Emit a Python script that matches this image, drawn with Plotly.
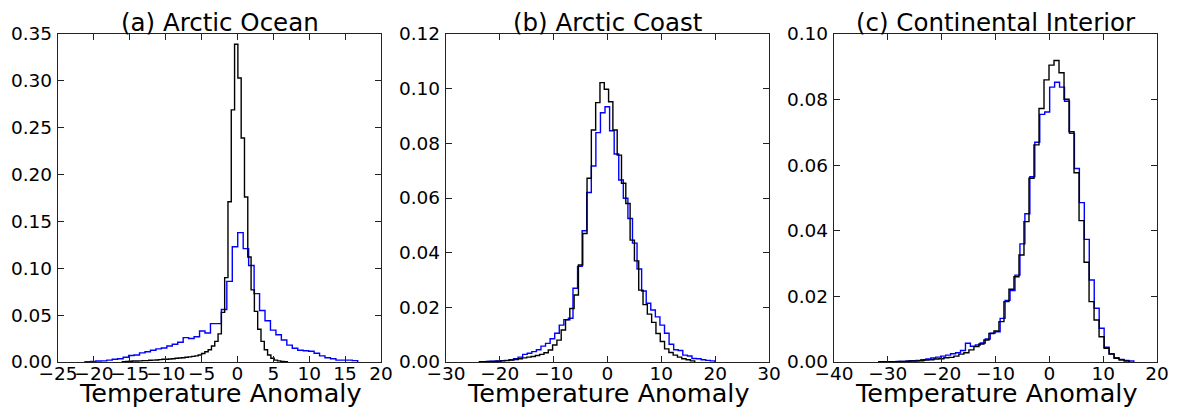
import plotly.graph_objects as go

W, H = 1177, 413

# ---------------- data (normalised histograms, uniform bins) ----------------
titles = ["(a) Arctic Ocean", "(b) Arctic Coast", "(c) Continental Interior"]
x_label = "Temperature Anomaly"

# (a) Arctic Ocean
a_blue_start = -21.24
a_blue_width = 0.76
a_blue_values = [0.0003, 0.0005, 0.001, 0.0012, 0.002, 0.003, 0.0035, 0.005, 0.007, 0.0075,
                 0.0097, 0.011, 0.0125, 0.014, 0.015, 0.017, 0.019, 0.021, 0.026, 0.025,
                 0.027, 0.033, 0.031, 0.041, 0.041, 0.056, 0.086, 0.123, 0.138, 0.121,
                 0.103, 0.073, 0.055, 0.044, 0.034, 0.029, 0.0235, 0.018, 0.0146, 0.0125,
                 0.012, 0.0115, 0.0093, 0.0065, 0.0045, 0.0035, 0.002, 0.002, 0.002, 0.0015]
a_black_start = -16.04
a_black_width = 0.46
a_black_values = [0.0004, 0.0005, 0.0008, 0.001, 0.001, 0.0012, 0.0015, 0.0015, 0.0018, 0.002,
                  0.0022, 0.0025, 0.003, 0.003, 0.0032, 0.0035, 0.004, 0.0042, 0.0045, 0.005,
                  0.0055, 0.006, 0.0065, 0.0075, 0.009, 0.011, 0.013, 0.017, 0.022, 0.03,
                  0.053, 0.09, 0.171, 0.269, 0.339, 0.303, 0.239, 0.176, 0.112, 0.077,
                  0.054, 0.035, 0.022, 0.013, 0.0075, 0.004, 0.002, 0.0012, 0.0007, 0.0003]

# (b) Arctic Coast
b_blue_start = -22.56
b_blue_width = 0.85
b_blue_values = [0.0002, 0.0003, 0.0004, 0.0005, 0.0006, 0.0008, 0.0012, 0.0018, 0.0028, 0.0032,
                 0.0038, 0.0045, 0.0058, 0.0068, 0.0085, 0.0105, 0.0135, 0.0155, 0.016, 0.027,
                 0.035, 0.048, 0.062, 0.0717, 0.0839, 0.0912, 0.0934, 0.0846, 0.0761, 0.0666,
                 0.0599, 0.0525, 0.0435, 0.034, 0.026, 0.0215, 0.019, 0.0165, 0.0135, 0.0105,
                 0.0065, 0.0045, 0.0042, 0.0025, 0.0022, 0.0013, 0.0012, 0.0008, 0.0006, 0.0004]
b_black_start = -23.8
b_black_width = 0.8
b_black_values = [0.0001, 0.0001, 0.0002, 0.0002, 0.0003, 0.0004, 0.0005, 0.0007, 0.0009, 0.0012,
                  0.0015, 0.0018, 0.002, 0.0024, 0.0028, 0.0034, 0.0044, 0.0062, 0.008, 0.0117,
                  0.0154, 0.0196, 0.0245, 0.0355, 0.047, 0.0672, 0.0849, 0.0949, 0.1022, 0.0998,
                  0.0952, 0.0849, 0.0757, 0.0654, 0.058, 0.0446, 0.037, 0.0263, 0.021, 0.0175,
                  0.0145, 0.0104, 0.0075, 0.0048, 0.0035, 0.0025, 0.0018, 0.0012, 0.0008, 0.0004]

# (c) Continental Interior
c_blue_start = -30.3
c_blue_width = 0.92
c_blue_values = [0.0001, 0.0001, 0.0002, 0.0002, 0.0003, 0.0004, 0.0005, 0.0007, 0.0009, 0.0012,
                 0.0015, 0.0018, 0.0021, 0.0025, 0.0028, 0.0035, 0.0057, 0.0048, 0.0052, 0.0058,
                 0.007, 0.0088, 0.0092, 0.0133, 0.0188, 0.0218, 0.0265, 0.036, 0.0452, 0.0565,
                 0.067, 0.0755, 0.0762, 0.0838, 0.0853, 0.0838, 0.0795, 0.0697, 0.059, 0.0486,
                 0.0374, 0.025, 0.0164, 0.0103, 0.0045, 0.0025, 0.0013, 0.0008, 0.0005, 0.0003]
c_black_start = -31.68
c_black_width = 0.93
c_black_values = [0.0001, 0.0001, 0.0001, 0.0001, 0.0002, 0.0002, 0.0003, 0.0003, 0.0004, 0.0006,
                  0.0007, 0.0009, 0.001, 0.0013, 0.0014, 0.0018, 0.0024, 0.0028, 0.0037, 0.0047,
                  0.0055, 0.0067, 0.0087, 0.0095, 0.0123, 0.0184, 0.0222, 0.026, 0.0326, 0.0428,
                  0.056, 0.0662, 0.0773, 0.086, 0.0905, 0.0919, 0.0882, 0.0801, 0.0702, 0.0577,
                  0.0431, 0.0304, 0.0184, 0.0128, 0.0077, 0.0042, 0.0024, 0.0011, 0.0006, 0.0003]

# axis ticks
a_xticks = [-25, -20, -15, -10, -5, 0, 5, 10, 15, 20]
b_xticks = [-30, -20, -10, 0, 10, 20, 30]
c_xticks = [-40, -30, -20, -10, 0, 10, 20]
a_yticks = [0.0, 0.05, 0.10, 0.15, 0.20, 0.25, 0.30, 0.35]
b_yticks = [0.0, 0.02, 0.04, 0.06, 0.08, 0.10, 0.12]
c_yticks = [0.0, 0.02, 0.04, 0.06, 0.08, 0.10]

panels = [
    dict(blue=(a_blue_start, a_blue_width, a_blue_values),
         black=(a_black_start, a_black_width, a_black_values),
         xticks=a_xticks, yticks=a_yticks),
    dict(blue=(b_blue_start, b_blue_width, b_blue_values),
         black=(b_black_start, b_black_width, b_black_values),
         xticks=b_xticks, yticks=b_yticks),
    dict(blue=(c_blue_start, c_blue_width, c_blue_values),
         black=(c_black_start, c_black_width, c_black_values),
         xticks=c_xticks, yticks=c_yticks),
]

# ---------------- layout geometry (pixels) ----------------
px_left = [58, 446, 834]
px_width = 323
px_top, px_bottom = 34, 362


def step_xy(start, width, values):
    n = len(values)
    edges = [start + i * width for i in range(n + 1)]
    xs = [edges[0]] + edges[:n] + [edges[n]]
    ys = [0.0] + list(values) + [0.0]
    return xs, ys


def fmt_minus(v):
    s = f"{v:g}"
    return s.replace("-", "\u2212")


fig = go.Figure()
FONT = "DejaVu Sans"
AX = "#222222"

for i, p in enumerate(panels):
    xa = "x" if i == 0 else f"x{i+1}"
    ya = "y" if i == 0 else f"y{i+1}"
    for key, color in (("blue", "#0000ff"), ("black", "#000000")):
        xs, ys = step_xy(*p[key])
        fig.add_trace(go.Scatter(x=xs, y=ys, mode="lines", line=dict(color=color, width=1.4, shape="hv"),
                                 xaxis=xa, yaxis=ya, showlegend=False, hoverinfo="skip"))
    xt = p["xticks"]
    yt = p["yticks"]
    dom_x = [px_left[i] / W, (px_left[i] + px_width) / W]
    dom_y = [(H - px_bottom) / H, (H - px_top) / H]
    xkey = "xaxis" if i == 0 else f"xaxis{i+1}"
    ykey = "yaxis" if i == 0 else f"yaxis{i+1}"
    common = dict(showline=True, linecolor=AX, linewidth=1.3, mirror="ticks", ticks="inside",
                  ticklen=6, tickwidth=1, tickcolor=AX, showgrid=False, zeroline=False,
                  automargin=False, tickangle=0, fixedrange=True,
                  tickfont=dict(family=FONT, size=18.5, color="#000000"))
    fig.update_layout(**{
        xkey: dict(domain=dom_x, range=[xt[0], xt[-1]], tickvals=xt,
                   ticktext=[fmt_minus(v) for v in xt], anchor=ya, ticklabelstandoff=-5, **common),
        ykey: dict(domain=dom_y, range=[yt[0], yt[-1]], tickvals=yt,
                   ticktext=[f"{v:.2f}" for v in yt], anchor=xa, ticklabelstandoff=1, **common),
    })
    cx = (px_left[i] + px_width / 2) / W
    fig.add_annotation(x=cx, y=1 - 22 / H, xref="paper", yref="paper", text=titles[i], showarrow=False,
                       xanchor="center", yanchor="middle", font=dict(family=FONT, size=24.5, color="#000000"))
    fig.add_annotation(x=cx, y=1 - 393 / H, xref="paper", yref="paper", text=x_label, showarrow=False,
                       xanchor="center", yanchor="middle", font=dict(family=FONT, size=25.5, color="#000000"))

fig.update_layout(width=W, height=H, margin=dict(l=0, r=0, t=0, b=0),
                  paper_bgcolor="white", plot_bgcolor="white")

fig.write_html("out.html")
